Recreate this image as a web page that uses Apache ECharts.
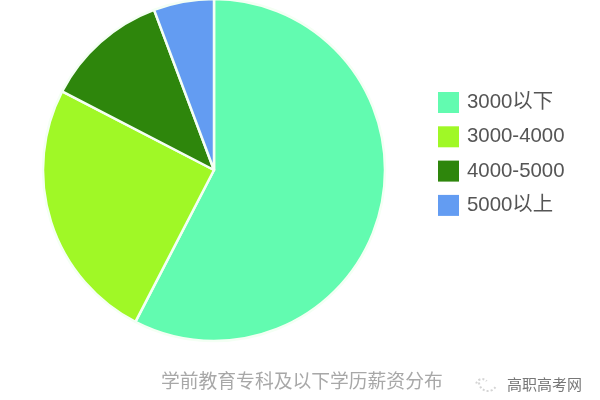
<!DOCTYPE html>
<html><head><meta charset="utf-8">
<style>html,body{margin:0;padding:0;background:#fff}#c{width:600px;height:400px}</style>
<script src="https://cdn.jsdelivr.net/npm/echarts@6/dist/echarts.min.js"></script>
</head><body><div id="c"></div>
<script>
var categories = ['3000以下','3000-4000','4000-5000','5000以上'];
var values = [57.6, 25, 11.7, 5.7];
var colors = ['#62fbb0','#a0f826','#2e860c','#639cf2'];
var title = '学前教育专科及以下学历薪资分布';
var watermark = '高职高考网';
var chart = echarts.init(document.getElementById('c'));
chart.setOption({
  animation:false,
  color:colors,
  title:[
    {text:title,left:156,top:366,textStyle:{fontSize:18.8,fontWeight:'normal',color:'#a8a8a8',fontFamily:'Noto Sans CJK SC'}},
    {text:watermark,left:502,top:372,textStyle:{fontSize:15,fontWeight:'normal',color:'#777',fontFamily:'Noto Sans CJK SC'}}
  ],
  graphic:[
    {type:'arc',shape:{cx:488,cy:382,r:9,startAngle:0.6,endAngle:3.4},style:{fill:null,stroke:'#d4d4d4',lineWidth:2,lineDash:[2,2]}},
    {type:'arc',shape:{cx:482,cy:385,r:6,startAngle:3.4,endAngle:5.6},style:{fill:null,stroke:'#d4d4d4',lineWidth:2,lineDash:[2,2]}}
  ],
  legend:{orient:'vertical',left:433,top:87,itemWidth:21,itemHeight:21,itemGap:13.3,icon:'rect',
    itemStyle:{borderWidth:0},
    textStyle:{fontSize:20.4,color:'#555',padding:[0,0,0,3],fontFamily:'Liberation Sans, Noto Sans CJK SC'},data:categories},
  series:[{type:'pie',center:[214,170],radius:[0,171],startAngle:90,clockwise:true,
    label:{show:false},labelLine:{show:false},
    itemStyle:{borderColor:'#f4fff4',borderWidth:2.5},
    data:categories.map(function(n,i){return {name:n,value:values[i]};})}]
});
</script></body></html>
